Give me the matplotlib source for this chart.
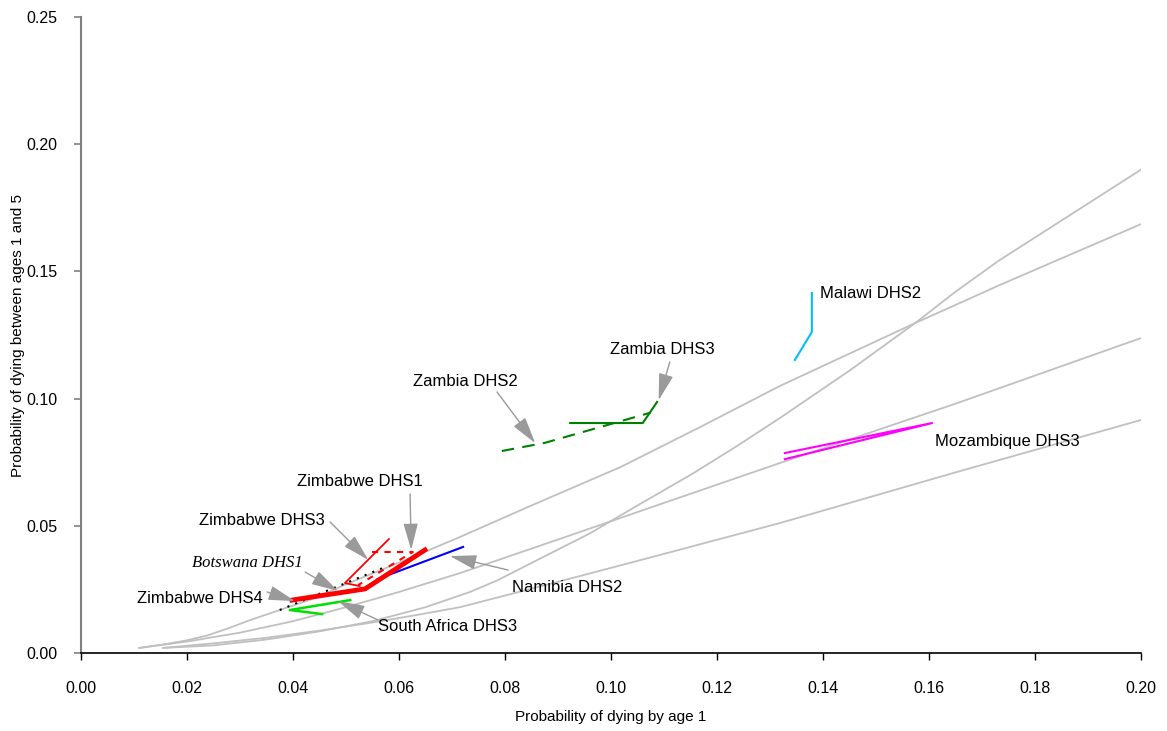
import matplotlib
matplotlib.use("Agg")
import matplotlib.pyplot as plt

plt.rcParams['font.family'] = ['Liberation Sans', 'DejaVu Sans']

# model life table curves (grey)
model_a_x = [0.0155, 0.025, 0.035, 0.045, 0.055, 0.065, 0.0734, 0.0785, 0.087, 0.096, 0.105,
             0.115, 0.1235, 0.1319, 0.145, 0.1574, 0.165, 0.173, 0.185, 0.20]
model_a_y = [0.002, 0.003, 0.0053, 0.0085, 0.0125, 0.018, 0.024, 0.0285, 0.0375, 0.047, 0.058,
             0.070, 0.081, 0.0924, 0.111, 0.1297, 0.142, 0.154, 0.170, 0.190]
model_b_x = [0.011, 0.016, 0.02, 0.024, 0.0275, 0.032, 0.0375, 0.044, 0.05, 0.06, 0.0715, 0.085,
             0.1017, 0.117, 0.1319, 0.1574, 0.1734, 0.20]
model_b_y = [0.002, 0.0035, 0.005, 0.007, 0.0095, 0.013, 0.0169, 0.0215, 0.027, 0.0355, 0.0456, 0.058,
             0.073, 0.089, 0.105, 0.1297, 0.1447, 0.1686]
model_c_x = [0.011, 0.02, 0.03, 0.04, 0.05, 0.06, 0.0715, 0.09, 0.11, 0.1319, 0.165, 0.20]
model_c_y = [0.002, 0.0045, 0.008, 0.0125, 0.018, 0.024, 0.0314, 0.0446, 0.059, 0.0747, 0.098, 0.1238]
model_d_x = [0.0155, 0.025, 0.035, 0.045, 0.055, 0.0635, 0.0715, 0.0904, 0.1068, 0.1319, 0.165, 0.20]
model_d_y = [0.002, 0.0038, 0.006, 0.0088, 0.012, 0.015, 0.018, 0.0282, 0.0372, 0.0511, 0.071, 0.0916]

# survey estimates
zambia2_x = [0.0794, 0.0875, 0.1075]
zambia2_y = [0.0794, 0.0826, 0.0945]
zambia3_x = [0.0923, 0.106, 0.1087]
zambia3_y = [0.0904, 0.0904, 0.0987]
malawi2_x = [0.1347, 0.1379, 0.1379]
malawi2_y = [0.1152, 0.1262, 0.1415]
mozamb3_x = [0.1328, 0.1606, 0.1328]
mozamb3_y = [0.0762, 0.0904, 0.0786]
namibia2_x = [0.056, 0.0721]
namibia2_y = [0.0291, 0.0417]
zimb4_x = [0.0398, 0.0536, 0.0649]
zimb4_y = [0.0208, 0.0252, 0.0405]
zimb3_x = [0.0581, 0.0498, 0.0526]
zimb3_y = [0.0448, 0.0275, 0.0263]
zimb1_x = [0.0549, 0.0626, 0.0523]
zimb1_y = [0.0397, 0.0397, 0.0267]
botsw1_x = [0.0375, 0.0574]
botsw1_y = [0.0169, 0.0338]
safrica3_x = [0.0508, 0.0394, 0.0455]
safrica3_y = [0.0208, 0.0169, 0.0153]

fig = plt.figure(figsize=(11.67, 7.31), dpi=100)
ax = fig.add_axes([0.0694, 0.1067, 0.9083, 0.87])

grey = '#c0c0c0'
for mx, my in [(model_a_x, model_a_y), (model_b_x, model_b_y),
               (model_c_x, model_c_y), (model_d_x, model_d_y)]:
    ax.plot(mx, my, color=grey, lw=1.3)

ax.plot(zambia2_x, zambia2_y, color='#008000', lw=1.5, ls=(0, (6, 4)))
ax.plot(zambia3_x, zambia3_y, color='#008000', lw=1.5)
ax.plot(malawi2_x, malawi2_y, color='#00bfff', lw=1.5)
ax.plot(mozamb3_x, mozamb3_y, color='#ff00ff', lw=1.5)
ax.plot(namibia2_x, namibia2_y, color='#0000ff', lw=1.5)
ax.plot(botsw1_x, botsw1_y, color='black', lw=1.5, ls=(0, (1, 3)))
ax.plot(zimb1_x, zimb1_y, color='#ff0000', lw=1.5, ls=(0, (3, 3)))
ax.plot(zimb3_x, zimb3_y, color='#ff0000', lw=1.3)
ax.plot(safrica3_x, safrica3_y, color='#00e000', lw=1.8)
ax.plot(zimb4_x, zimb4_y, color='#ff0000', lw=3.5)

arrow = dict(arrowstyle='-|>,head_length=1.1,head_width=0.3', color='#9a9a9a',
             lw=1.0, mutation_scale=15, shrinkA=0, shrinkB=0)

def label(txt, pos, ha='left', start=None, tip=None, **kw):
    ax.text(pos[0], pos[1], txt, ha=ha, va='center', fontsize=12, **kw)
    if start is not None:
        ax.annotate('', xy=tip, xytext=start, arrowprops=arrow)

label('Zambia DHS2', (0.0726, 0.1069), ha='center', start=(0.0785, 0.1026), tip=(0.0857, 0.0825))
label('Zambia DHS3', (0.1096, 0.1195), ha='center', start=(0.1111, 0.1144), tip=(0.109, 0.0994))
label('Malawi DHS2', (0.1394, 0.1415))
label('Mozambique DHS3', (0.1611, 0.0833))
label('Namibia DHS2', (0.0813, 0.0259), start=(0.0806, 0.0326), tip=(0.0696, 0.0381))
label('South Africa DHS3', (0.056, 0.0106), start=(0.056, 0.013), tip=(0.0485, 0.0204))
label('Zimbabwe DHS4', (0.0343, 0.0216), ha='right', start=(0.0351, 0.024), tip=(0.0404, 0.0204))
label('Botswana DHS1', (0.0419, 0.0354), ha='right', start=(0.0423, 0.0318), tip=(0.0485, 0.0244),
      family='Liberation Serif', style='italic')
label('Zimbabwe DHS3', (0.046, 0.0519), ha='right', start=(0.047, 0.0515), tip=(0.0542, 0.0366))
label('Zimbabwe DHS1', (0.0526, 0.0676), ha='center', start=(0.0621, 0.0625), tip=(0.0623, 0.0405))

ax.set_xlim(0, 0.20)
ax.set_ylim(0, 0.25)
ax.set_xticks([i * 0.02 for i in range(11)])
ax.set_yticks([i * 0.05 for i in range(6)])
ax.xaxis.set_major_formatter(matplotlib.ticker.FormatStrFormatter('%.2f'))
ax.yaxis.set_major_formatter(matplotlib.ticker.FormatStrFormatter('%.2f'))
ax.spines['top'].set_visible(False)
ax.spines['right'].set_visible(False)
ax.spines['left'].set_color('#808080')
ax.spines['left'].set_linewidth(1.5)
ax.spines['bottom'].set_linewidth(1.2)
ax.tick_params(axis='y', direction='out', length=5, color='#808080', width=1.2, pad=12, labelsize=11.5)
ax.tick_params(axis='x', direction='out', length=5, width=1, pad=15, labelsize=11.5)
ax.set_xlabel('Probability of dying by age 1', fontsize=11)
ax.set_ylabel('Probability of dying between ages 1 and 5', fontsize=11)
ax.xaxis.set_label_coords(0.5, -0.09)
ax.yaxis.set_label_coords(-0.053, 0.5)

fig.savefig('out.png', dpi=100)
